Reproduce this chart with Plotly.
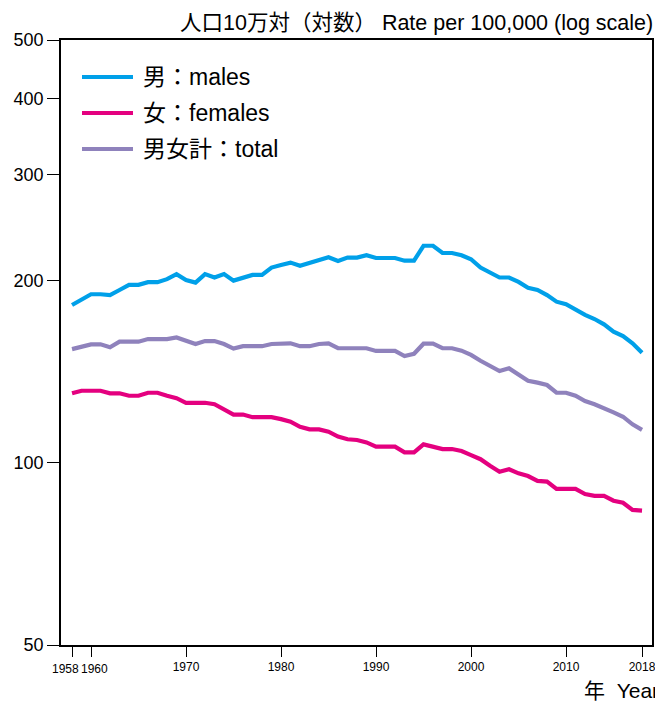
import plotly.graph_objects as go

years = list(range(1958, 2019))

males = [182.4, 186.3, 190.0, 190.0, 189.4, 193.1, 196.9, 196.9, 198.9, 198.9,
         201.2, 205.1, 200.6, 198.6, 205.1, 202.5, 205.1, 200.1, 202.5, 204.5,
         204.5, 210.3, 212.4, 214.3, 211.8, 214.3, 216.5, 218.7, 215.7, 218.4,
         218.4, 220.4, 218.1, 218.1, 218.1, 215.9, 215.9, 228.5, 228.5, 222.3,
         222.3, 220.4, 217.1, 210.3, 206.5, 202.5, 202.5, 199.1, 194.8, 193.1,
         189.4, 184.7, 182.9, 178.9, 175.6, 172.9, 169.4, 164.8, 162.0, 157.6,
         152.1]

females = [130.3, 131.6, 131.6, 131.6, 130.3, 130.3, 129.1, 129.1, 130.6, 130.6,
           129.1, 127.9, 125.7, 125.7, 125.7, 125.0, 122.3, 120.2, 120.2, 119.0,
           119.0, 119.0, 118.1, 117.0, 114.7, 113.6, 113.6, 112.6, 110.5, 109.4,
           109.1, 108.1, 106.4, 106.4, 106.4, 104.1, 104.1, 107.3, 106.4, 105.4,
           105.4, 104.6, 103.0, 101.4, 98.9, 96.7, 97.6, 96.1, 95.1, 93.4,
           93.1, 90.6, 90.6, 90.6, 88.8, 88.2, 88.2, 86.6, 85.9, 83.6,
           83.4]

total = [154.2, 155.6, 157.0, 157.0, 155.3, 158.6, 158.6, 158.6, 160.2, 160.2,
         160.2, 161.2, 159.0, 157.2, 159.0, 159.0, 157.2, 154.5, 155.9, 155.9,
         155.9, 157.2, 157.6, 157.6, 155.9, 155.9, 157.2, 157.6, 154.7, 154.7,
         154.7, 154.7, 153.1, 153.1, 153.1, 150.2, 151.5, 157.4, 157.4, 154.7,
         154.7, 153.3, 150.8, 147.5, 144.8, 141.8, 143.3, 139.7, 136.7, 135.7,
         134.5, 130.6, 130.6, 129.1, 126.5, 125.0, 123.3, 121.2, 119.2, 115.8,
         113.4]

series_names = ["男：males", "女：females", "男女計：total"]
series_colors = ["#00a0e9", "#e4007f", "#8f82bc"]

x_tickvals = [1958, 1960, 1970, 1980, 1990, 2000, 2010, 2018]
x_ticktext = ["", "", "1970", "1980", "1990", "2000", "2010", "2018"]
x_close_labels = [("1958", 1958, -6.5), ("1960", 1960, 3.5)]
y_tickvals = [50, 100, 200, 300, 400, 500]
y_ticktext = ["50", "100", "200", "300", "400", "500"]

LATIN = "Liberation Sans, Noto Sans CJK JP, sans-serif"
XFONT = dict(size=12, family="Liberation Sans, sans-serif")

fig = go.Figure()
for name, vals, col in zip(series_names, [males, females, total], series_colors):
    fig.add_trace(go.Scatter(
        x=years, y=vals, mode="lines", name=name,
        line=dict(color=col, width=4.2), showlegend=False,
    ))

fig.update_layout(
    width=655, height=702,
    margin=dict(l=61, r=3, t=40, b=57, autoexpand=False),
    paper_bgcolor="white", plot_bgcolor="white",
    font=dict(family=LATIN, color="black"),
    showlegend=False,
    xaxis=dict(range=[1956.84, 2019.05], tickvals=x_tickvals, ticktext=x_ticktext,
               tickangle=0, ticklabeloverflow="allow",
               ticks="outside", ticklen=10, tickwidth=1, tickcolor="black",
               showline=True, linecolor="black", linewidth=1.5, mirror=True,
               showgrid=False, zeroline=False,
               tickfont=XFONT),
    yaxis=dict(type="log", range=[1.69897, 2.69897], tickvals=y_tickvals, ticktext=y_ticktext,
               ticks="outside", ticklen=12, tickwidth=1, tickcolor="black",
               showline=True, linecolor="black", linewidth=1.5, mirror=True,
               showgrid=False, zeroline=False,
               tickfont=dict(size=18, family=LATIN)),
)

# close-together year labels, nudged apart as in the original
for txt, xv, shift in x_close_labels:
    fig.add_annotation(text=txt, x=xv, xref="x", y=0, yref="paper",
                       yanchor="middle", yshift=-24, xshift=shift, showarrow=False,
                       font=XFONT)

# legend drawn manually (long sample lines like the original)
for i, (name, col) in enumerate(zip(series_names, series_colors)):
    ypos = 1 - (37 + 36 * i) / 605
    fig.add_shape(type="line", xref="paper", yref="paper",
                  x0=21 / 591, x1=72 / 591, y0=ypos, y1=ypos,
                  line=dict(color=col, width=4.2))
    fig.add_annotation(text=name, xref="paper", yref="paper",
                       x=80 / 591, y=ypos, xanchor="left", yanchor="middle",
                       showarrow=False, font=dict(size=23, family=LATIN))

fig.add_annotation(text="人口10万対（対数） Rate per 100,000 (log scale)",
                   xref="paper", yref="paper", x=1.0, y=1.0, xanchor="right", yanchor="middle",
                   yshift=17, xshift=3, showarrow=False,
                   font=dict(size=21.5, family=LATIN))
fig.add_annotation(text="年  Year",
                   xref="paper", yref="paper", x=(582 - 61) / 591, y=0, xanchor="left",
                   yanchor="middle", yshift=-45, showarrow=False,
                   font=dict(size=21, family=LATIN))

fig.write_html("out.html", post_script="document.body.style.margin='0';",
               config={"displayModeBar": False})
